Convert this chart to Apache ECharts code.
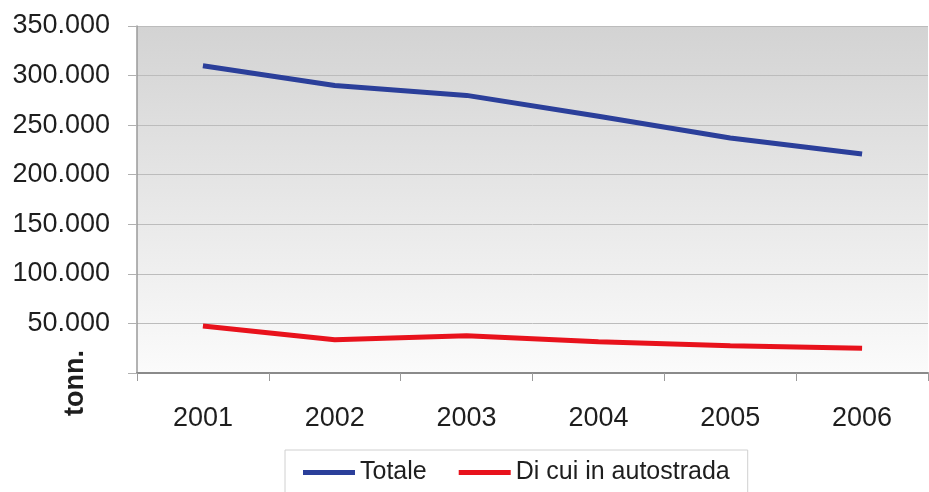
<!DOCTYPE html>
<html>
<head>
<meta charset="utf-8">
<script src="https://cdn.jsdelivr.net/npm/echarts@6/dist/echarts.min.js"></script>
<style>
  html, body { margin: 0; padding: 0; background: #ffffff; }
  #chart { width: 929px; height: 492px; }
</style>
</head>
<body>
<div id="chart"></div>
<script>
// Years on the horizontal axis
const years = ['2001', '2002', '2003', '2004', '2005', '2006'];
// Tonnes per year
const totale = [310000, 290000, 280000, 259000, 237000, 221000];
const autostrada = [47500, 33500, 37500, 31500, 27500, 25000];
// Series names shown in the legend
const seriesNames = ['Totale', 'Di cui in autostrada'];
const unitLabel = 'tonn.';

const fontFamily = '"Liberation Sans", Arial, sans-serif';
const textColor = '#1e1e1e';

function thousands(v) {
  if (v === 0) return '';
  return String(v).replace(/\B(?=(\d{3})+(?!\d))/g, '.');
}

const chart = echarts.init(document.getElementById('chart'), null, { renderer: 'canvas' });

chart.setOption({
  animation: false,
  backgroundColor: '#ffffff',
  grid: {
    left: 137, right: 1, top: 26, bottom: 119,
    show: true,
    borderWidth: 0,
    backgroundColor: new echarts.graphic.LinearGradient(0, 0, 0, 1, [
      { offset: 0, color: '#d3d3d3' },
      { offset: 0.55, color: '#e9e9e9' },
      { offset: 1, color: '#fbfbfb' }
    ])
  },
  legend: {
    data: seriesNames,
    left: 285,
    top: 450,
    padding: [10, 18, 30, 18],
    borderColor: '#d0d0d0',
    borderWidth: 1,
    itemGap: 32,
    itemWidth: 52,
    itemHeight: 5,
    icon: 'rect',
    textStyle: { fontFamily, fontSize: 25, color: textColor }
  },
  xAxis: {
    type: 'category',
    data: years,
    boundaryGap: true,
    axisLine: { lineStyle: { color: '#8a8a8a', width: 2 } },
    axisTick: { show: true, length: 8, lineStyle: { color: '#9a9a9a', width: 1 } },
    axisLabel: { fontFamily, fontSize: 27, color: textColor, margin: 32 },
    splitLine: { show: false }
  },
  yAxis: {
    type: 'value',
    min: 0, max: 350000, interval: 50000,
    axisLine: { show: true, lineStyle: { color: '#9a9a9a', width: 1.5 } },
    axisTick: { show: true, length: 9, lineStyle: { color: '#b0b0b0', width: 1 } },
    axisLabel: { fontFamily, fontSize: 27, color: textColor, margin: 27, formatter: thousands },
    splitLine: { show: true, lineStyle: { color: '#bcbcbc', width: 1 } }
  },
  graphic: [{
    type: 'text',
    x: 76, y: 383,
    rotation: Math.PI / 2,
    style: {
      text: unitLabel,
      font: 'bold 27px ' + fontFamily,
      fill: textColor,
      align: 'center',
      verticalAlign: 'middle'
    }
  }],
  series: [
    {
      name: seriesNames[0],
      type: 'line',
      data: totale,
      symbol: 'none',
      lineStyle: { color: '#2b3f9a', width: 5 },
      itemStyle: { color: '#2b3f9a' }
    },
    {
      name: seriesNames[1],
      type: 'line',
      data: autostrada,
      symbol: 'none',
      lineStyle: { color: '#e8121c', width: 5 },
      itemStyle: { color: '#e8121c' }
    }
  ]
});
</script>
</body>
</html>
